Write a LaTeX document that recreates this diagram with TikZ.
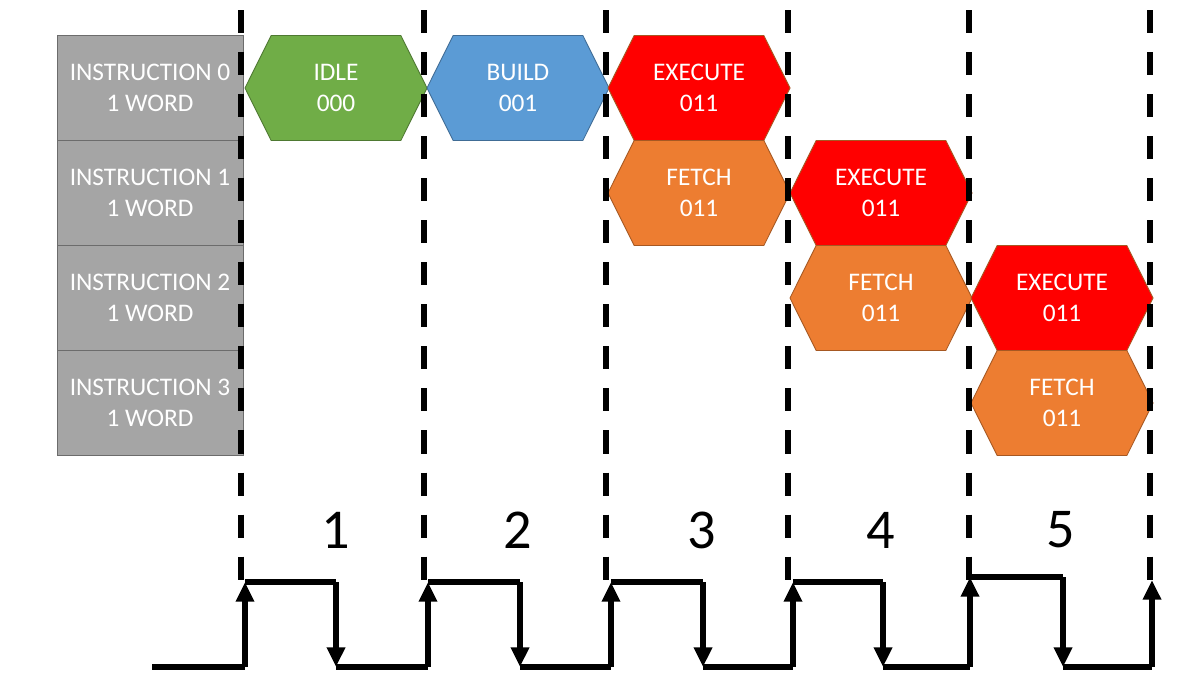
\documentclass[tikz,border=0pt]{standalone}
\usepackage{fontspec}
\setmainfont{Carlito}
\usepackage{tikz}
\usetikzlibrary{arrows.meta}
\usetikzlibrary{positioning,shapes.symbols}
\usepackage{xcolor}
\definecolor{instgray}{HTML}{A5A5A5}
\definecolor{idlegreen}{HTML}{70AD47}
\definecolor{buildblue}{HTML}{5B9BD5}
\definecolor{fetchorange}{HTML}{ED7D31}
\definecolor{execred}{HTML}{FF0000}
\tikzset{
    instr/.style={
        draw=gray!85!black,
        fill=instgray,
        rectangle,
        minimum width=4.65cm,
        minimum height=2.625cm,
        inner sep=0pt,
        align=center,
        text=white,
        font=\fontsize{18}{22}\selectfont
    },
    stage/.style={
        shape=signal,
        signal to=west and east,
        signal pointer angle=127,
        minimum width=4.55cm,
        minimum height=2.625cm,
        inner sep=0pt,
        line width=0.6pt,
        align=center,
        text=white,
        font=\fontsize{18}{22}\selectfont
    },
    idle/.style={stage, fill=idlegreen, draw=idlegreen!70!black},
    build/.style={stage, fill=buildblue, draw=buildblue!70!black},
    exec/.style={stage, fill=execred, draw=fetchorange!70!black},
    fetch/.style={stage, fill=fetchorange, draw=fetchorange!70!black},
    divider/.style={line width=3.6pt, dash pattern=on 16.4pt off 13.5pt},
    clk/.style={line width=4pt},
    tick/.style={clk, -{Triangle[length=14pt, width=12.5pt]}}
}

\begin{document}
\begin{tikzpicture}[x=0.025cm, y=-0.025cm]
  \useasboundingbox (0,0) rectangle (1178,680);

  % Instructions
  \foreach \i/\y in {0/88, 1/193, 2/298, 3/403}
    \node[instr] (ins\i) at (150,\y) {INSTRUCTION \i\\1 WORD};

  % Stages
  \node[idle]  (idle) at (336,88)  {IDLE\\000};
  \node[build] (build) at (518,88) {BUILD\\001};
  \node[exec]  (exe0) at (699,88)  {EXECUTE\\011};
  \node[fetch] (fet1) at (699,193) {FETCH\\011};
  \node[exec]  (exe1) at (881,193) {EXECUTE\\011};
  \node[fetch] (fet2) at (881,298) {FETCH\\011};
  \node[exec]  (exe2) at (1062,298) {EXECUTE\\011};
  \node[fetch] (fet3) at (1062,403) {FETCH\\011};

  % Cycle boundaries
  \foreach \x in {241, 424, 606, 788, 969, 1150}
    \draw[divider] (\x,10) -- (\x,580);

  % Cycle numbers
  \foreach \n/\x in {1/336, 2/518, 3/702, 4/881, 5/1061}
    \node[font=\fontsize{40}{48}\selectfont] (num\n) at (\x,530) {\n};

  % Clock
  \coordinate (lo0) at (152,667);
  \foreach \i/\r/\f/\h in {1/245/336/582, 2/428/520/582, 3/611/703/582, 4/793/883/582, 5/970/1063/577} {
    \coordinate (up\i) at (\r,667);
    \coordinate (hi\i) at (\r,\h);
    \coordinate (dn\i) at (\f,\h);
    \coordinate (lo\i) at (\f,667);
    \draw[tick] (up\i) -- (hi\i);
    \draw[clk] (hi\i) -- (dn\i);
    \draw[tick] (dn\i) -- (lo\i);
  }
  \coordinate (up6) at (1152,667);
  \coordinate (hi6) at (1152,580);
  \foreach \i [evaluate=\i as \j using int(\i+1)] in {0,...,5}
    \draw[clk] (lo\i) -- (up\j);
  \draw[tick] (up6) -- (hi6);
\end{tikzpicture}
\end{document}
